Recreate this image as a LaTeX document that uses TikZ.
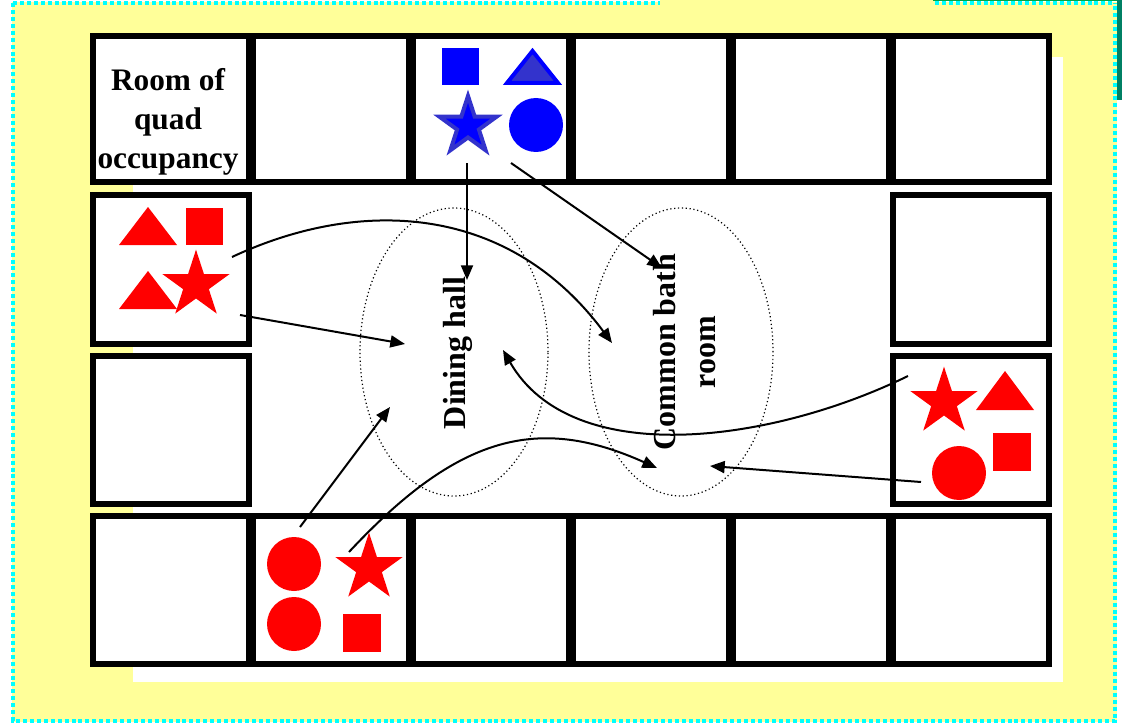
\documentclass[tikz,border=0pt]{standalone}
\usepackage{fontspec}
\setmainfont{Liberation Serif}[BoldFont={Liberation Serif Bold}]
\usetikzlibrary{arrows.meta,shapes.geometric}
\definecolor{bgyellow}{RGB}{255,255,153}
\definecolor{dotcyan}{RGB}{0,255,255}
\definecolor{tealbar}{RGB}{0,128,100}
\definecolor{midblue}{RGB}{51,51,204}
\begin{document}
\begin{tikzpicture}[x=0.75pt,y=-0.75pt,
  room/.style={draw=black, line width=4.2pt, fill=white},
  flow/.style={line width=1.5pt, -{Triangle[length=11pt,width=9pt]}},
  zone/.style={ellipse, draw=black, dotted, line width=0.9pt, inner sep=0pt},
  lbl/.style={font=\bfseries\fontsize{24}{30}\selectfont, align=center, inner sep=0pt},
  frame/.style={dotcyan, line width=3pt, dash pattern=on 3pt off 2.2pt},
  redstar/.style={star, star points=5, star point ratio=2.618, minimum size=53pt, inner sep=0pt, fill=red},
  bluestar/.style={star, star points=5, star point ratio=2.618, minimum size=45pt, inner sep=0pt, fill=blue, draw=midblue, line width=3pt}
]
\useasboundingbox (0,0) rectangle (1122,724);
% background
\fill[bgyellow] (12,2) rectangle (1117,722);
\fill[bgyellow] (660,0) rectangle (935,4);
\fill[tealbar] (1117,0) rectangle (1122,100);
\draw[tealbar!70!green, line width=1pt] (933,0.7) -- (1117,0.7);
\draw[frame] (13,3) -- (13,721) -- (1115,721) -- (1115,3);
\draw[frame] (13,3) -- (660,3);
\draw[frame] (935,3) -- (1115,3);
\fill[white] (133,57) rectangle (1063,682);

% rooms
\foreach \x in {92.8,252.8,412.8,572.8,732.8,892.8}{
  \draw[room] (\x,35.8) rectangle ++(156.4,146.4);
  \draw[room] (\x,515.8) rectangle ++(156.4,148.4);
}
\draw[room] (92.8,194.8) rectangle ++(156.4,149.4);
\draw[room] (92.8,355.8) rectangle ++(156.4,148.4);
\draw[room] (892.8,194.8) rectangle ++(156.4,149.4);
\draw[room] (892.8,355.8) rectangle ++(156.4,148.4);

% zones
\node[zone, minimum width=141pt, minimum height=216pt] (dining) at (454,352) {};
\node[zone, minimum width=138pt, minimum height=216pt] (bath) at (681,352) {};

% blue group (top)
\fill[blue] (442,48) rectangle (479,85);
\filldraw[fill=midblue, draw=blue, line width=3pt] (507,83) -- (558,83) -- (532.5,51) -- cycle;
\node[bluestar] (bstar) at (468,126) {};
\fill[blue] (536,125) circle (27);

% red group (left)
\fill[red] (119,245) -- (177,245) -- (148,207) -- cycle;
\fill[red] (186,208) rectangle (223,245);
\fill[red] (119,309) -- (177,309) -- (148,271) -- cycle;
\node[redstar] (lstar) at (196,285) {};

% red group (right)
\node[redstar] (rstar) at (944,402) {};
\fill[red] (976,410) -- (1034,410) -- (1005,371) -- cycle;
\fill[red] (993,433) rectangle (1031,471);
\fill[red] (959,473) circle (27);

% red group (bottom)
\fill[red] (294,564) circle (27);
\fill[red] (294,624) circle (27);
\node[redstar] (bstar2) at (369,568) {};
\fill[red] (343,614) rectangle (381,652);

% texts
\node[lbl, font=\bfseries\fontsize{23.5}{39}\selectfont] (quad) at (168,122) {Room of\\[-9.5pt]quad\\[-9.5pt]occupancy};
\node[lbl, rotate=90] (dtext) at (458,353) {Dining hall};
\node[lbl, rotate=90] (btext) at (685,352) {Common bath\\room};

% connector end points
\coordinate (a1s) at (467,163); \coordinate (a1e) at (467,280);
\coordinate (a2s) at (511,163); \coordinate (a2e) at (662,268);
\coordinate (a3s) at (232,257); \coordinate (a3e) at (612,343);
\coordinate (a4s) at (240,315); \coordinate (a4e) at (405,344);
\coordinate (a5s) at (908,376); \coordinate (a5e) at (503,350);
\coordinate (a6s) at (921,482); \coordinate (a6e) at (710,466);
\coordinate (a7s) at (300,527); \coordinate (a7e) at (390,407);
\coordinate (a8s) at (349,552); \coordinate (a8e) at (657,468);

\draw[flow] (a1s) -- (a1e);
\draw[flow] (a2s) -- (a2e);
\draw[flow] (a3s) .. controls (358,198) and (507,202) .. (a3e);
\draw[flow] (a4s) -- (a4e);
\draw[flow] (a5s) .. controls (771,443) and (572,470) .. (a5e);
\draw[flow] (a6s) -- (a6e);
\draw[flow] (a7s) -- (a7e);
\draw[flow] (a8s) .. controls (459,434) and (539,415) .. (a8e);
\end{tikzpicture}
\end{document}
